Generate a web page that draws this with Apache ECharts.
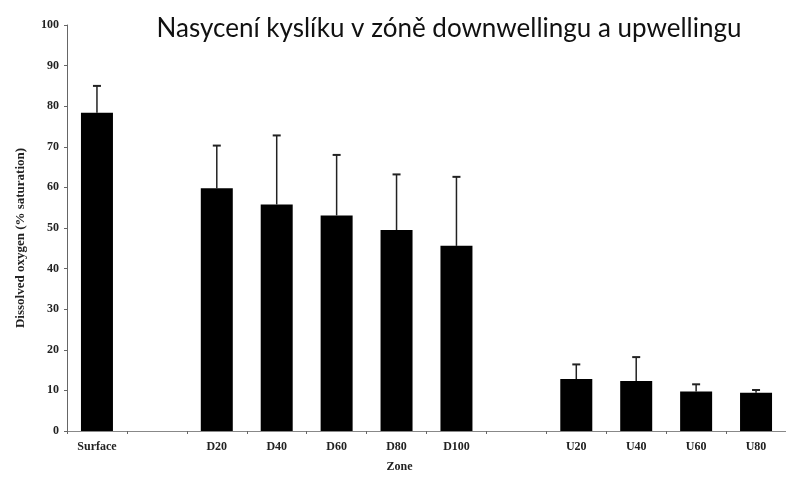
<!DOCTYPE html>
<html>
<head>
<meta charset="utf-8">
<script src="https://cdn.jsdelivr.net/npm/echarts@6/dist/echarts.min.js"></script>
<style>
  html, body { margin: 0; padding: 0; background: #fff; }
  #chart { width: 786px; height: 480px; }
</style>
</head>
<body>
<div id="chart"></div>
<script>
// zones (blank slots separate the groups)
const zones = ['Surface', ' ', 'D20', 'D40', 'D60', 'D80', 'D100', '  ', 'U20', 'U40', 'U60', 'U80']
const means = [78.4, '-', 59.8, 55.8, 53.1, 49.5, 45.6, '-', 12.8, 12.3, 9.7, 9.4]
const upper = [85.0, '-', 70.3, 72.8, 68.0, 63.2, 62.6, '-', 16.4, 18.2, 11.5, 10.1]
const yTicks = [0, 10, 20, 30, 40, 50, 60, 70, 80, 90, 100]

let errData = []
zones.forEach(function (z, i) {
  if (means[i] !== '-') errData.push([i, means[i], upper[i]])
})

let serifBold = { fontFamily: 'Liberation Serif', fontWeight: 'bold', color: '#222' }

let myChart = echarts.init(document.getElementById('chart'))
myChart.setOption({
  animation: false,
  title: {
    text: 'Nasycení kyslíku v zóně downwellingu a upwellingu',
    left: 444,
    top: 11,
    textAlign: 'center',
    textStyle: { fontFamily: 'Lato', fontWeight: 'normal', fontSize: 26, color: '#111' }
  },
  grid: { left: 67, top: 25, width: 726, height: 406 },
  xAxis: {
    type: 'category',
    data: zones,
    name: 'Zone',
    nameLocation: 'middle',
    nameGap: 30,
    nameTextStyle: Object.assign({ fontSize: 12, padding: [0, 0, 0, -54] }, serifBold),
    axisLine: { lineStyle: { color: '#888', width: 1 } },
    axisTick: { show: true, length: 3, lineStyle: { color: '#666' } },
    axisLabel: Object.assign({ fontSize: 12, margin: 10 }, serifBold)
  },
  yAxis: {
    type: 'value',
    min: yTicks[0],
    max: yTicks[yTicks.length - 1],
    interval: 10,
    name: 'Dissolved oxygen (% saturation)',
    nameLocation: 'middle',
    nameGap: 40,
    nameTextStyle: Object.assign({ fontSize: 13, padding: [0, 20, 0, 0] }, serifBold),
    axisLine: { show: true, lineStyle: { color: '#666', width: 1 } },
    axisTick: { show: true, length: 3, lineStyle: { color: '#666' } },
    splitLine: { show: false },
    axisLabel: Object.assign({ fontSize: 12, margin: 8 }, serifBold)
  },
  series: [{
    type: 'bar',
    data: means,
    barWidth: 32,
    itemStyle: { color: '#000' }
  }, {
    type: 'custom',
    data: errData,
    z: 1,
    renderItem: function (params, api) {
      let base = api.coord([api.value(0), api.value(1)])
      let top = api.coord([api.value(0), api.value(2)])
      return {
        type: 'group',
        children: [{
          type: 'line',
          shape: { x1: base[0], y1: base[1], x2: top[0], y2: top[1] },
          style: { stroke: '#222', lineWidth: 1.5 }
        }, {
          type: 'line',
          shape: { x1: top[0] - 4, y1: top[1], x2: top[0] + 4, y2: top[1] },
          style: { stroke: '#222', lineWidth: 2 }
        }]
      }
    }
  }]
})
</script>
</body>
</html>
